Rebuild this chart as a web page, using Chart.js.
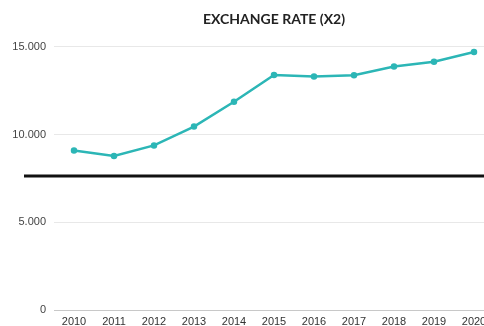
<!DOCTYPE html>
<html>
<head>
<meta charset="utf-8">
<script src="https://cdn.jsdelivr.net/npm/chart.js@4"></script>
<style>
html,body{margin:0;padding:0;background:#fff;overflow:hidden;width:484px;height:326px;}
#wrap{width:500px;height:326px;position:relative;}
</style>
</head>
<body>
<div id="wrap"><canvas id="c" width="500" height="326"></canvas></div>
<script>
const years = ['2010','2011','2012','2013','2014','2015','2016','2017','2018','2019','2020'];
const exchangeRate = [9084, 8779, 9380, 10452, 11865, 13389, 13308, 13381, 13880, 14147, 14700];
const referenceLevel = 7640;
const yTicks = [0, 5000, 10000, 15000];
const titleText = 'EXCHANGE RATE (X2)';

const refLinePlugin = {
  id: 'refLine',
  afterDatasetsDraw(chart) {
    const y = chart.scales.y.getPixelForValue(referenceLevel);
    const ctx = chart.ctx;
    ctx.save();
    ctx.strokeStyle = '#111';
    ctx.lineWidth = 3;
    ctx.beginPath();
    ctx.moveTo(24, y);
    ctx.lineTo(chart.width, y);
    ctx.stroke();
    ctx.restore();
  }
};

new Chart(document.getElementById('c'), {
  type: 'line',
  data: {
    labels: years,
    datasets: [{
      data: exchangeRate,
      borderColor: '#2cb6b6',
      backgroundColor: '#2cb6b6',
      borderWidth: 2.5,
      pointRadius: 2,
      pointHoverRadius: 2,
      tension: 0
    }]
  },
  options: {
    responsive: false,
    animation: false,
    layout: { padding: { top: 0, right: 6, left: 0, bottom: 0 } },
    plugins: {
      legend: { display: false },
      tooltip: { enabled: false },
      title: {
        display: true,
        text: titleText,
        fullSize: false,
        color: '#222',
        font: { family: 'Lato', size: 14, weight: 'bold' },
        padding: { top: 11, bottom: 19 }
      }
    },
    scales: {
      x: {
        offset: true,
        grid: { display: false, drawTicks: false },
        border: { display: true, color: '#c8c8c8' },
        ticks: {
          color: '#333',
          font: { family: 'Liberation Sans', size: 11 },
          padding: 5,
          maxRotation: 0,
          autoSkip: false
        },
        afterFit(axis) { axis.height = 16; }
      },
      y: {
        min: 0,
        max: 15000,
        afterBuildTicks(axis) { axis.ticks = yTicks.map(v => ({ value: v })); },
        grid: { color: '#e8e8e8', drawTicks: false },
        border: { display: false },
        ticks: {
          color: '#444',
          font: { family: 'Liberation Sans', size: 11 },
          padding: 8,
          callback: v => v.toString().replace(/\B(?=(\d{3})+(?!\d))/g, '.')
        },
        afterFit(axis) { axis.width = 54; }
      }
    }
  },
  plugins: [refLinePlugin]
});
</script>
</body>
</html>
